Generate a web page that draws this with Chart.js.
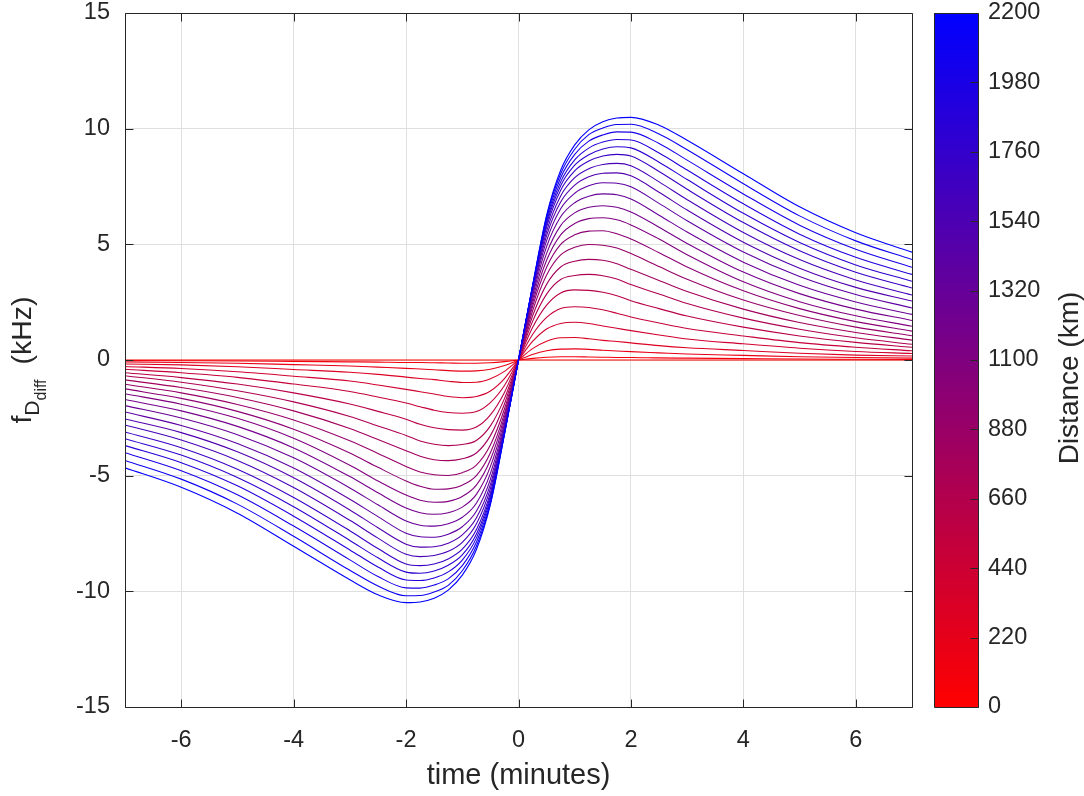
<!DOCTYPE html>
<html>
<head>
<meta charset="utf-8">
<script src="https://cdn.jsdelivr.net/npm/chart.js@4.4.1/dist/chart.umd.min.js"></script>
<style>
  html, body { margin: 0; padding: 0; background: #fff; }
  #wrap { width: 1084px; height: 796px; position: relative; }
</style>
</head>
<body>
<div id="wrap"><canvas id="chart" width="1084" height="796"></canvas></div>
<script>
'use strict';

// sample times (minutes) shared by every curve
const times = [-7, -6, -5, -4, -3, -2.5, -2, -1.75, -1.5, -1.25, -1, -0.75, -0.5, -0.25, 0,
    0.25, 0.5, 0.75, 1, 1.25, 1.5, 1.75, 2, 2.5, 3, 4, 5, 6, 7];

const distances = [0, 100, 200, 300, 400, 500, 600, 700, 800, 900, 1000, 1100,
    1200, 1300, 1400, 1500, 1600, 1700, 1800, 1900, 2000, 2100, 2200];

const xTickValues = [-6, -4, -2, 0, 2, 4, 6];
const yTickValues = [-15, -10, -5, 0, 5, 10, 15];
const distanceTicks = [0, 220, 440, 660, 880, 1100, 1320, 1540, 1760, 1980, 2200];

// f_D_diff (kHz), one array per distance
const fd0 = [0, 0, 0, 0, 0, 0, 0, 0, 0, 0, 0, 0, 0, 0, 0, 0, 0, 0, 0, 0, 0, 0, 0, 0, 0, 0, 0, 0, 0];
const fd100 = [-0.02, -0.03, -0.04, -0.06, -0.08, -0.09, -0.11, -0.11, -0.12, -0.13, -0.14, -0.14, -0.12, -0.07, 0,
    0.07, 0.12, 0.14, 0.14, 0.13, 0.12, 0.11, 0.11, 0.09, 0.08, 0.06, 0.04, 0.03, 0.02];
const fd200 = [-0.08, -0.11, -0.14, -0.20, -0.26, -0.31, -0.36, -0.39, -0.42, -0.46, -0.48, -0.47, -0.40, -0.24, 0,
    0.24, 0.40, 0.47, 0.48, 0.46, 0.42, 0.39, 0.36, 0.31, 0.26, 0.20, 0.14, 0.11, 0.08];
const fd300 = [-0.17, -0.21, -0.29, -0.41, -0.53, -0.62, -0.74, -0.80, -0.85, -0.92, -0.97, -0.96, -0.81, -0.49, 0,
    0.49, 0.81, 0.96, 0.97, 0.92, 0.85, 0.80, 0.74, 0.62, 0.53, 0.41, 0.29, 0.21, 0.17];
const fd400 = [-0.28, -0.37, -0.51, -0.70, -0.91, -1.08, -1.27, -1.37, -1.47, -1.58, -1.63, -1.58, -1.34, -0.80, 0,
    0.80, 1.34, 1.58, 1.63, 1.58, 1.47, 1.37, 1.27, 1.08, 0.91, 0.70, 0.51, 0.37, 0.28];
const fd500 = [-0.40, -0.55, -0.75, -1.04, -1.36, -1.60, -1.86, -2.02, -2.17, -2.27, -2.30, -2.23, -1.84, -1.10, 0,
    1.10, 1.84, 2.23, 2.30, 2.27, 2.17, 2.02, 1.86, 1.60, 1.36, 1.04, 0.75, 0.55, 0.40];
const fd600 = [-0.55, -0.76, -1.04, -1.42, -1.90, -2.22, -2.56, -2.78, -2.93, -3.01, -3.03, -2.90, -2.37, -1.40, 0,
    1.40, 2.37, 2.90, 3.03, 3.01, 2.93, 2.78, 2.56, 2.22, 1.90, 1.42, 1.04, 0.76, 0.55];
const fd700 = [-0.68, -0.96, -1.33, -1.81, -2.44, -2.85, -3.26, -3.50, -3.64, -3.70, -3.65, -3.48, -2.85, -1.67, 0,
    1.67, 2.85, 3.48, 3.65, 3.70, 3.64, 3.50, 3.26, 2.85, 2.44, 1.81, 1.33, 0.96, 0.68];
const fd800 = [-0.86, -1.19, -1.62, -2.20, -2.96, -3.44, -3.92, -4.16, -4.31, -4.35, -4.27, -4.02, -3.27, -1.90, 0,
    1.90, 3.27, 4.02, 4.27, 4.35, 4.31, 4.16, 3.92, 3.44, 2.96, 2.20, 1.62, 1.19, 0.86];
const fd900 = [-1.05, -1.42, -1.92, -2.59, -3.49, -4.04, -4.60, -4.84, -4.96, -4.99, -4.87, -4.54, -3.67, -2.12, 0,
    2.12, 3.67, 4.54, 4.87, 4.99, 4.96, 4.84, 4.60, 4.04, 3.49, 2.59, 1.92, 1.42, 1.05];
const fd1000 = [-1.25, -1.66, -2.22, -2.99, -4.02, -4.64, -5.23, -5.46, -5.59, -5.57, -5.41, -5.00, -4.01, -2.31, 0,
    2.31, 4.01, 5.00, 5.41, 5.57, 5.59, 5.46, 5.23, 4.64, 4.02, 2.99, 2.22, 1.66, 1.25];
const fd1100 = [-1.46, -1.91, -2.52, -3.38, -4.55, -5.23, -5.84, -6.06, -6.15, -6.11, -5.90, -5.41, -4.31, -2.46, 0,
    2.46, 4.31, 5.41, 5.90, 6.11, 6.15, 6.06, 5.84, 5.23, 4.55, 3.38, 2.52, 1.91, 1.46];
const fd1200 = [-1.71, -2.20, -2.87, -3.80, -5.04, -5.74, -6.40, -6.60, -6.67, -6.60, -6.36, -5.81, -4.61, -2.61, 0,
    2.61, 4.61, 5.81, 6.36, 6.60, 6.67, 6.60, 6.40, 5.74, 5.04, 3.80, 2.87, 2.20, 1.71];
const fd1300 = [-1.97, -2.51, -3.23, -4.23, -5.53, -6.26, -6.96, -7.14, -7.18, -7.08, -6.80, -6.19, -4.90, -2.75, 0,
    2.75, 4.90, 6.19, 6.80, 7.08, 7.18, 7.14, 6.96, 6.26, 5.53, 4.23, 3.23, 2.51, 1.97];
const fd1400 = [-2.25, -2.83, -3.61, -4.67, -6.02, -6.77, -7.49, -7.64, -7.66, -7.53, -7.21, -6.54, -5.16, -2.87, 0,
    2.87, 5.16, 6.54, 7.21, 7.53, 7.66, 7.64, 7.49, 6.77, 6.02, 4.67, 3.61, 2.83, 2.25];
const fd1500 = [-2.55, -3.14, -3.97, -5.09, -6.48, -7.25, -7.96, -8.09, -8.07, -7.92, -7.56, -6.83, -5.38, -2.96, 0,
    2.96, 5.38, 6.83, 7.56, 7.92, 8.07, 8.09, 7.96, 7.25, 6.48, 5.09, 3.97, 3.14, 2.55];
const fd1600 = [-2.81, -3.46, -4.34, -5.51, -6.93, -7.70, -8.40, -8.50, -8.45, -8.27, -7.88, -7.09, -5.56, -3.03, 0,
    3.03, 5.56, 7.09, 7.88, 8.27, 8.45, 8.50, 8.40, 7.70, 6.93, 5.51, 4.34, 3.46, 2.81];
const fd1700 = [-3.11, -3.79, -4.72, -5.94, -7.38, -8.15, -8.82, -8.89, -8.82, -8.60, -8.18, -7.34, -5.74, -3.10, 0,
    3.10, 5.74, 7.34, 8.18, 8.60, 8.82, 8.89, 8.82, 8.15, 7.38, 5.94, 4.72, 3.79, 3.11];
const fd1800 = [-3.40, -4.11, -5.08, -6.34, -7.80, -8.55, -9.17, -9.22, -9.12, -8.87, -8.42, -7.53, -5.87, -3.13, 0,
    3.13, 5.87, 7.53, 8.42, 8.87, 9.12, 9.22, 9.17, 8.55, 7.80, 6.34, 5.08, 4.11, 3.40];
const fd1900 = [-3.70, -4.44, -5.44, -6.75, -8.21, -8.95, -9.51, -9.53, -9.42, -9.16, -8.65, -7.70, -5.98, -3.16, 0,
    3.16, 5.98, 7.70, 8.65, 9.16, 9.42, 9.53, 9.51, 8.95, 8.21, 6.75, 5.44, 4.44, 3.70];
const fd2000 = [-4.01, -4.79, -5.83, -7.18, -8.64, -9.36, -9.85, -9.86, -9.73, -9.46, -8.89, -7.88, -6.10, -3.18, 0,
    3.18, 6.10, 7.88, 8.89, 9.46, 9.73, 9.86, 9.85, 9.36, 8.64, 7.18, 5.83, 4.79, 4.01];
const fd2100 = [-4.34, -5.15, -6.23, -7.62, -9.09, -9.77, -10.19, -10.18, -10.03, -9.74, -9.11, -8.05, -6.21, -3.20, 0,
    3.20, 6.21, 8.05, 9.11, 9.74, 10.03, 10.18, 10.19, 9.77, 9.09, 7.62, 6.23, 5.15, 4.34];
const fd2200 = [-4.66, -5.50, -6.62, -8.05, -9.50, -10.15, -10.49, -10.46, -10.30, -9.95, -9.30, -8.20, -6.25, -3.22, 0,
    3.22, 6.25, 8.20, 9.30, 9.95, 10.30, 10.46, 10.49, 10.15, 9.50, 8.05, 6.62, 5.50, 4.66];

const curves = [fd0, fd100, fd200, fd300, fd400, fd500, fd600, fd700, fd800, fd900, fd1000, fd1100,
    fd1200, fd1300, fd1400, fd1500, fd1600, fd1700, fd1800, fd1900, fd2000, fd2100, fd2200];

const INK = '#262626';
const GRID = '#dfdfdf';
const FONT = "'Liberation Sans', Arial, Helvetica, sans-serif";
const D_MAX = 2200;

// red -> blue colormap used by the lines and the colorbar
function distanceColor(d) {
    const f = d / D_MAX;
    return `rgb(${Math.round(255 * (1 - f))},0,${Math.round(255 * f)})`;
}

// blue curves drawn last so they sit on top, like the original
const datasets = distances.map((d, i) => ({
    label: d + ' km',
    data: times.map((t, k) => ({ x: t, y: curves[i][k] })),
    borderColor: distanceColor(d),
    borderWidth: 1.1,
    pointRadius: 0,
    fill: false,
    cubicInterpolationMode: 'monotone',
})).reverse();

/**
 * MATLAB style frame: full box, inward ticks, colorbar and the rotated labels
 */
const matlabFrame = {
    id: 'matlabFrame',
    afterDraw(chart) {
        const { ctx, chartArea: a, scales } = chart;
        const px = (v) => Math.round(v) + 0.5;
        const tick = 8;

        ctx.save();
        ctx.strokeStyle = INK;
        ctx.lineWidth = 1;

        const L = px(a.left), R = px(a.right), T = px(a.top), B = px(a.bottom);
        ctx.beginPath();
        ctx.rect(L, T, R - L, B - T);
        xTickValues.forEach((v) => {
            const x = px(scales.x.getPixelForValue(v));
            ctx.moveTo(x, B); ctx.lineTo(x, B - tick);
            ctx.moveTo(x, T); ctx.lineTo(x, T + tick);
        });
        yTickValues.forEach((v) => {
            const y = px(scales.y.getPixelForValue(v));
            ctx.moveTo(L, y); ctx.lineTo(L + tick, y);
            ctx.moveTo(R, y); ctx.lineTo(R - tick, y);
        });
        ctx.stroke();

        // colorbar
        const cb = scales.cb;
        const cx0 = Math.round(cb.left + 22), cx1 = Math.round(cb.left + 66);
        const cTop = cb.getPixelForValue(D_MAX), cBot = cb.getPixelForValue(0);
        const grad = ctx.createLinearGradient(0, cBot, 0, cTop);
        grad.addColorStop(0, distanceColor(0));
        grad.addColorStop(1, distanceColor(D_MAX));
        ctx.fillStyle = grad;
        ctx.fillRect(cx0, cTop, cx1 - cx0, cBot - cTop);
        ctx.beginPath();
        ctx.rect(cx0 + 0.5, px(cTop), cx1 - cx0, px(cBot) - px(cTop));
        distanceTicks.forEach((v) => {
            const y = px(cb.getPixelForValue(v));
            ctx.moveTo(cx1 + 0.5, y); ctx.lineTo(cx1 + 0.5 - tick, y);
        });
        ctx.stroke();

        ctx.fillStyle = INK;

        // colorbar label
        ctx.save();
        ctx.translate(1078, (a.top + a.bottom) / 2 + 18);
        ctx.rotate(-Math.PI / 2);
        ctx.font = `28px ${FONT}`;
        ctx.textAlign = 'center';
        ctx.textBaseline = 'alphabetic';
        ctx.fillText('Distance (km)', 0, 0);
        ctx.restore();

        // y label: f_{D_{diff}} (kHz)
        const parts = [
            { text: 'f', size: 28.5, dy: 0 },
            { text: 'D', size: 21, dy: 8 },
            { text: 'diff', size: 16, dy: 15 },
            { text: '(kHz)', size: 28.5, dy: 0, gap: 15 },
        ];
        let total = 0;
        parts.forEach((p) => {
            ctx.font = `${p.size}px ${FONT}`;
            p.w = ctx.measureText(p.text).width;
            total += p.w + (p.gap || 0);
        });
        ctx.save();
        ctx.translate(31, (a.top + a.bottom) / 2);
        ctx.rotate(-Math.PI / 2);
        ctx.textAlign = 'left';
        ctx.textBaseline = 'alphabetic';
        let cursor = -total / 2;
        parts.forEach((p) => {
            cursor += p.gap || 0;
            ctx.font = `${p.size}px ${FONT}`;
            ctx.fillText(p.text, cursor, p.dy);
            cursor += p.w;
        });
        ctx.restore();

        ctx.restore();
    },
};

const tickFont = { family: FONT, size: 23.5, lineHeight: 1.0 };
const plainLabel = (v) => String(v);
// invisible tick marks only used to push the labels away from the axes
const spacer = (len, onChart) => ({
    display: true,
    drawOnChartArea: onChart,
    color: GRID,
    drawTicks: true,
    tickLength: len,
    tickColor: 'rgba(0,0,0,0)',
});

new Chart(document.getElementById('chart').getContext('2d'), {
    type: 'line',
    data: { datasets: datasets },
    options: {
        responsive: false,
        animation: false,
        devicePixelRatio: 1,
        layout: { padding: { top: 13, left: 0, right: 0, bottom: 0 } },
        plugins: {
            legend: { display: false },
            tooltip: { enabled: false },
        },
        scales: {
            x: {
                type: 'linear',
                min: -7,
                max: 7,
                afterBuildTicks: (s) => { s.ticks = xTickValues.map((v) => ({ value: v })); },
                afterFit: (s) => { s.height = 89; },
                grid: spacer(22, true),
                border: { display: false },
                ticks: { font: tickFont, color: INK, padding: 0, maxRotation: 0, autoSkip: false, callback: plainLabel },
                title: {
                    display: true,
                    text: 'time (minutes)',
                    color: INK,
                    font: { family: FONT, size: 29 },
                    padding: { top: 0, bottom: 3 },
                },
            },
            y: {
                type: 'linear',
                min: -15,
                max: 15,
                afterBuildTicks: (s) => { s.ticks = yTickValues.map((v) => ({ value: v })); },
                afterFit: (s) => { s.width = 125; },
                grid: spacer(15, true),
                border: { display: false },
                ticks: { font: tickFont, color: INK, padding: 0, callback: plainLabel },
            },
            cb: {
                type: 'linear',
                position: 'right',
                min: 0,
                max: D_MAX,
                afterBuildTicks: (s) => { s.ticks = distanceTicks.map((v) => ({ value: v })); },
                afterFit: (s) => { s.width = 172; },
                grid: spacer(76, false),
                border: { display: false },
                ticks: { font: tickFont, color: INK, padding: 0, autoSkip: false, callback: plainLabel },
            },
        },
    },
    plugins: [matlabFrame],
});
</script>
</body>
</html>
